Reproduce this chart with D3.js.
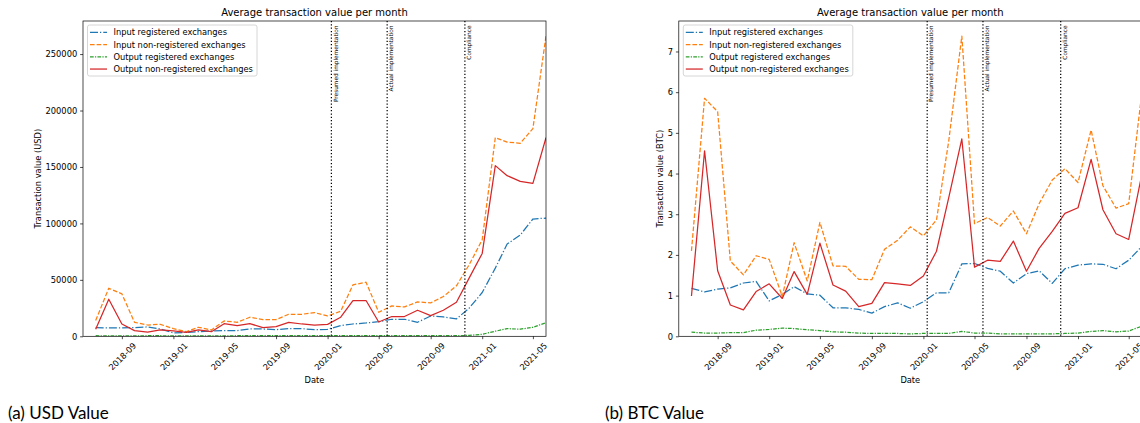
<!DOCTYPE html>
<html>
<head>
<meta charset="utf-8">
<script src="https://cdn.jsdelivr.net/npm/d3@7"></script>
<style>
  body { margin: 0; background: #fff; }
  svg { display: block; }
  text { font-family: "DejaVu Sans", sans-serif; fill: #000; }
</style>
</head>
<body>
<svg id="chart" width="1140" height="423"></svg>
<script>
// Monthly observation dates (first of each month)
const months = [
  "2018-07","2018-08","2018-09","2018-10","2018-11","2018-12",
  "2019-01","2019-02","2019-03","2019-04","2019-05","2019-06",
  "2019-07","2019-08","2019-09","2019-10","2019-11","2019-12",
  "2020-01","2020-02","2020-03","2020-04","2020-05","2020-06",
  "2020-07","2020-08","2020-09","2020-10","2020-11","2020-12",
  "2021-01","2021-02","2021-03","2021-04","2021-05","2021-06"
];

const seriesNames = [
  "Input registered exchanges",
  "Input non-registered exchanges",
  "Output registered exchanges",
  "Output non-registered exchanges"
];

// Average transaction value in USD
const usdInputReg = [7700,7400,7400,7700,8300,6500,3000,3500,4100,4700,5000,5000,6500,6500,5900,6800,6800,5900,6200,9500,10900,11800,13000,15100,15100,12400,18000,17200,15400,24900,38800,60400,81700,89700,103900,104700];
const usdInputNonReg = [13900,42600,37600,12400,10000,10600,6800,4100,8000,5600,13600,12400,16900,14800,14800,19500,19500,21000,18000,22200,45600,47900,21300,26900,26000,30500,29600,35200,44700,63300,85500,176000,172000,171000,184000,266000];
const usdOutputReg = [500,400,400,400,500,500,400,400,500,400,400,500,500,500,500,500,600,500,500,500,500,500,500,600,600,500,500,500,500,800,1800,4500,6800,6300,8000,12000];
const usdOutputNonReg = [6200,32800,10900,5000,3800,5600,4700,3500,5600,4100,11200,9500,11200,7700,8600,12400,10900,10000,10600,16900,31700,31700,12700,17500,17500,23100,18300,23100,30200,51500,73400,151200,142300,137300,135500,176000];

// Average transaction value in BTC
const btcInputReg = [1.18,1.09,1.16,1.19,1.31,1.35,0.87,1.03,1.22,1.04,1.01,0.70,0.70,0.66,0.57,0.73,0.82,0.69,0.85,1.07,1.07,1.78,1.79,1.67,1.60,1.31,1.54,1.61,1.30,1.66,1.75,1.78,1.77,1.66,1.87,2.21];
const btcInputNonReg = [2.10,5.85,5.52,1.85,1.51,1.98,1.89,0.98,2.30,1.36,2.80,1.73,1.72,1.40,1.39,2.14,2.36,2.69,2.47,2.86,4.80,7.38,2.77,2.92,2.71,3.08,2.52,3.26,3.84,4.12,3.78,5.07,3.70,3.15,3.26,5.98];
const btcOutputReg = [0.10,0.08,0.08,0.09,0.09,0.15,0.17,0.20,0.19,0.16,0.14,0.11,0.10,0.08,0.07,0.07,0.07,0.06,0.07,0.07,0.07,0.12,0.08,0.08,0.06,0.06,0.06,0.06,0.06,0.07,0.08,0.12,0.14,0.11,0.13,0.25];
const btcOutputNonReg = [0.99,4.56,1.61,0.77,0.65,1.10,1.29,0.93,1.59,1.03,2.29,1.26,1.11,0.73,0.81,1.32,1.29,1.25,1.48,2.09,3.41,4.85,1.70,1.87,1.84,2.34,1.60,2.16,2.58,3.02,3.16,4.35,3.11,2.52,2.38,3.98];

// Regulatory milestones marked with vertical lines
const eventDates = ["2020-01-10", "2020-05-21", "2020-11-21"];
const eventLabels = ["Presumed implementation", "Actual implementation", "Compliance"];

const xLimits = ["2018-06-01", "2021-06-01"];

const colors = ["#1f77b4", "#ff7f0e", "#2ca02c", "#d62728"];
const dashes = ["8,2,1.25,2", "4.6,2", "3.7,1.25,1.25,1.25", null];

const parseMonth = d3.utcParse("%Y-%m");
const parseDay = d3.utcParse("%Y-%m-%d");
const svg = d3.select("#chart");

function drawPanel(opt) {
  const left = opt.left, top = 21, width = 463, height = 315.3;
  const g = svg.append("g").attr("transform", `translate(${left},${top})`);

  const x = d3.scaleUtc().domain(xLimits.map(parseDay)).range([0, width]);
  const allVals = opt.series.flat();
  const y = d3.scaleLinear().domain([0, d3.max(allVals) * 1.05]).range([height, 0]);

  const clipId = "clip-" + opt.key;
  g.append("clipPath").attr("id", clipId)
    .append("rect").attr("width", width).attr("height", height);

  const plot = g.append("g").attr("clip-path", `url(#${clipId})`);
  const dates = months.map(parseMonth);
  const line = d3.line().x((d, i) => x(dates[i])).y(d => y(d));

  opt.series.forEach((vals, k) => {
    plot.append("path")
      .datum(vals)
      .attr("d", line)
      .attr("fill", "none")
      .attr("stroke", colors[k])
      .attr("stroke-width", 1.25)
      .attr("stroke-dasharray", dashes[k])
      .attr("stroke-linejoin", "round");
  });

  // Milestone lines and labels
  eventDates.forEach((d, i) => {
    const ex = x(parseDay(d));
    plot.append("line")
      .attr("x1", ex).attr("x2", ex).attr("y1", 0).attr("y2", height)
      .attr("stroke", "#000").attr("stroke-width", 1.25)
      .attr("stroke-dasharray", "1.25,2.05");
    g.append("text")
      .attr("transform", `translate(${ex + 2.2},${4.5}) rotate(-90)`)
      .attr("text-anchor", "end")
      .attr("dominant-baseline", "hanging")
      .style("font-size", "5.8px")
      .text(eventLabels[i]);
  });

  // Axes
  const xAxis = d3.axisBottom(x)
    .ticks(d3.utcMonth.every(4))
    .tickFormat(d3.utcFormat("%Y-%m"))
    .tickSize(2.9).tickPadding(2.9);
  const xg = g.append("g").attr("transform", `translate(0,${height})`).call(xAxis);
  xg.select(".domain").remove();
  xg.selectAll(".tick line").attr("stroke", "#000").attr("stroke-width", 0.7);
  xg.selectAll(".tick text")
    .attr("y", null).attr("dy", null)
    .attr("transform", "translate(0,20.2) rotate(-45)")
    .attr("text-anchor", "middle")
    .attr("dominant-baseline", "central")
    .style("font-size", "8.3px").style("font-family", "DejaVu Sans");

  const yAxis = d3.axisLeft(y).ticks(opt.yTicks).tickSize(2.9).tickPadding(2.9)
    .tickFormat(d3.format("d"));
  const yg = g.append("g").call(yAxis);
  yg.select(".domain").remove();
  yg.selectAll(".tick line").attr("stroke", "#000").attr("stroke-width", 0.7);
  yg.selectAll(".tick text")
    .attr("dy", "0.34em")
    .style("font-size", "8.3px").style("font-family", "DejaVu Sans");

  // Frame
  g.append("rect").attr("width", width).attr("height", height)
    .attr("fill", "none").attr("stroke", "#000").attr("stroke-width", 0.7);

  // Title and axis labels
  g.append("text").attr("x", width / 2).attr("y", -5.5)
    .attr("text-anchor", "middle").style("font-size", "10px")
    .text("Average transaction value per month");
  g.append("text").attr("x", width / 2).attr("y", 362)
    .attr("text-anchor", "middle").style("font-size", "8.3px")
    .text("Date");
  g.append("text")
    .attr("transform", `translate(${opt.yLabelX - left},${height / 2}) rotate(-90)`)
    .attr("text-anchor", "middle").attr("dominant-baseline", "central")
    .style("font-size", "8.3px")
    .text(opt.yLabel);

  // Legend
  const lg = g.append("g").attr("transform", "translate(4.5,4)");
  lg.append("rect").attr("width", 169.5).attr("height", 51)
    .attr("rx", 2).attr("fill", "#fff").attr("fill-opacity", 0.8)
    .attr("stroke", "#cccccc").attr("stroke-width", 0.8);
  seriesNames.forEach((name, k) => {
    const ry = 7.3 + k * 12.25;
    lg.append("line").attr("x1", 2.5).attr("x2", 19.5).attr("y1", ry).attr("y2", ry)
      .attr("stroke", colors[k]).attr("stroke-width", 1.25)
      .attr("stroke-dasharray", dashes[k]);
    lg.append("text").attr("x", 26).attr("y", ry)
      .attr("dominant-baseline", "central").style("font-size", "8.3px")
      .text(name);
  });

  // Caption
  svg.append("text").attr("x", opt.captionX).attr("y", 419)
    .style("font-family", "Lato, 'Open Sans', sans-serif").style("font-size", "17px")
    .text(opt.caption);
}

drawPanel({
  key: "usd", left: 83,
  series: [usdInputReg, usdInputNonReg, usdOutputReg, usdOutputNonReg],
  yTicks: 6, yLabel: "Transaction value (USD)", yLabelX: 38.3,
  caption: "(a) USD Value", captionX: 8
});

drawPanel({
  key: "btc", left: 678.8,
  series: [btcInputReg, btcInputNonReg, btcOutputReg, btcOutputNonReg],
  yTicks: 8, yLabel: "Transaction value (BTC)", yLabelX: 660,
  caption: "(b) BTC Value", captionX: 605
});
</script>
</body>
</html>
